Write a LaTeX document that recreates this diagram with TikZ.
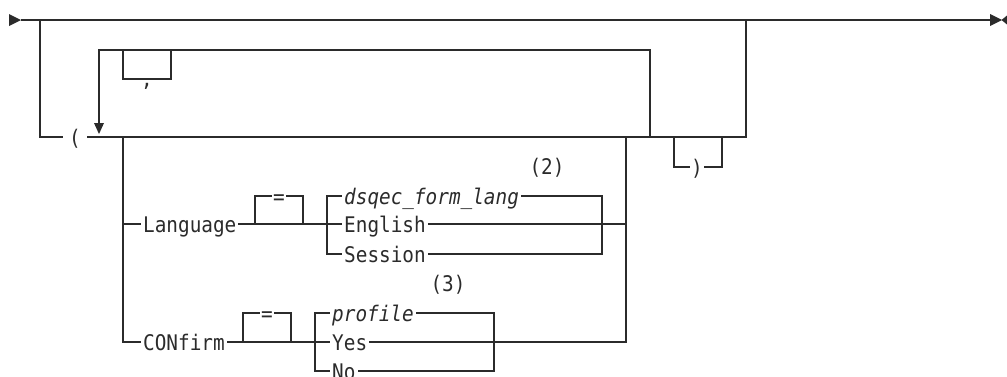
\documentclass[tikz,border=0pt]{standalone}
\usepackage{fontspec}
\newfontfamily\railfont[FakeStretch=0.9]{DejaVu Sans Mono}
\definecolor{ink}{gray}{0.17}
\tikzset{
  rail/.style={draw=ink, line width=1.1pt, line cap=butt, line join=miter},
  tip/.style={fill=ink, draw=none},
  kw/.style={font=\railfont\fontsize{21.5}{24}\selectfont, text=ink, fill=white,
    inner xsep=2pt, inner ysep=1pt, anchor=base west},
  var/.style={kw, font=\railfont\itshape\fontsize{21.5}{24}\selectfont},
  sym/.style={kw, anchor=base, inner xsep=1pt},
  note/.style={font=\railfont\fontsize{21.5}{24}\selectfont, text=ink, inner sep=0pt, anchor=base}
}
\begin{document}
\begin{tikzpicture}[x=1pt,y=-1pt]
\useasboundingbox (0,0) rectangle (1007,376);
% key coordinates
\coordinate (start) at (21,20);
\coordinate (stop) at (990,20);
\coordinate (lft) at (40,20);
\coordinate (rgt) at (746,20);
\coordinate (grpL) at (40,137);
\coordinate (grpR) at (746,137);
\coordinate (loopIn) at (99,123);
\coordinate (loopR) at (650,137);
\coordinate (chL) at (123,137);
\coordinate (chR) at (626,137);
% main line and arrows
\draw[rail] (start) -- (stop);
\fill[tip] (9,14) -- (21,20) -- (9,26) -- cycle;
\fill[tip] (990,14) -- (1002,20) -- (990,26) -- cycle;
\fill[tip] (1007,15.5) -- (1001.5,20) -- (1007,24.5) -- cycle;
% optional group
\draw[rail] (lft) -- (grpL) -- (grpR) -- (rgt);
% repeat loop with separator
\draw[rail] (loopIn) -- (99,50) -- (650,50) -- (loopR);
\fill[tip] (94,123) -- (104,123) -- (99,134) -- cycle;
\draw[rail] (123,50) -- (123,79) -- (171,79) -- (171,50);
% optional closing paren
\draw[rail] (674,137) -- (674,167) -- (722,167) -- (722,137);
% choice of keywords
\draw[rail] (chL) -- (123,342) -- (626,342) -- (chR);
\draw[rail] (123,224) -- (626,224);
% Language
\draw[rail] (255,224) -- (255,196) -- (303,196) -- (303,224);
\draw[rail] (327,196) rectangle (602,254);
% CONfirm
\draw[rail] (243,342) -- (243,313) -- (291,313) -- (291,342);
\draw[rail] (315,313) rectangle (494,371);
% texts
\node[sym, inner xsep=6pt] (lp) at (75,145) {(};
\node[sym] (comma) at (147,86) {,};
\node[sym] (rp) at (697,175) {)};
\node[kw] (language) at (141,232) {Language};
\node[sym] (eq1) at (279,204) {=};
\node[var] (dsqec) at (342,204) {dsqec\_form\_lang};
\node[kw] (english) at (342,232) {English};
\node[kw] (session) at (342,262) {Session};
\node[note] (n2) at (547,174) {(2)};
\node[kw] (confirm) at (141,350) {CONfirm};
\node[sym] (eq2) at (267,321) {=};
\node[var] (profile) at (330,321) {profile};
\node[kw] (yes) at (330,350) {Yes};
\node[kw] (no) at (330,379) {No};
\node[note] (n3) at (448,291) {(3)};
\end{tikzpicture}
\end{document}
